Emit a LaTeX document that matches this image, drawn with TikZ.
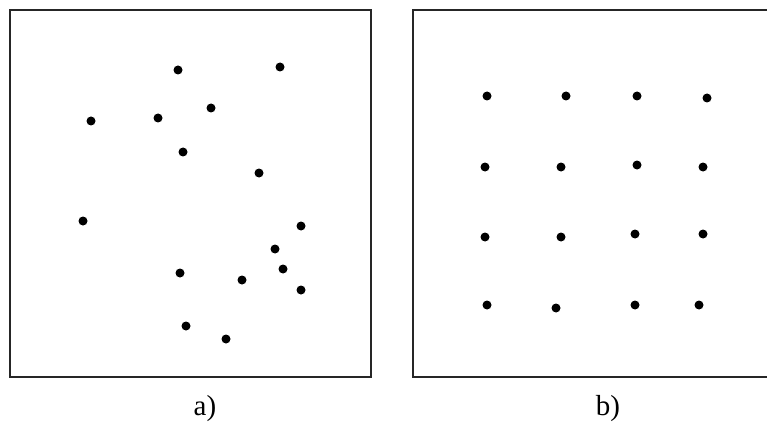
\documentclass[tikz,border=0pt]{standalone}
\usepackage{fontspec}
\setmainfont{Liberation Serif}
\usetikzlibrary{positioning}

\tikzset{
  panel/.style={draw=black!85, line width=2.3pt},
  pt/.style={fill=black},
  caption/.style={font=\fontsize{29}{33}\selectfont, anchor=base, inner sep=0pt}
}

\begin{document}
\begin{tikzpicture}[x=1pt, y=-1pt]
\useasboundingbox (0,0) rectangle (767,422);

% a) random points
\begin{scope}
\draw[panel] (10,10) rectangle (371,377);
\foreach \x/\y in {178/70, 280/67, 211/108, 158/118, 91/121, 183/152, 259/173, 83/221,
                   301/226, 275/249, 180/273, 283/269, 242/280, 301/290, 186/326, 226/339} {
  \fill[pt] (\x,\y) circle (4.5);
}
\node[caption] (capA) at (205,415) {a)};
\end{scope}

% b) regular grid
\begin{scope}
\draw[panel] (413,10) rectangle (780,377);
\foreach \x/\y in {487/96, 566/96, 637/96, 707/98,
                   485/167, 561/167, 637/165, 703/167,
                   485/237, 561/237, 635/234, 703/234,
                   487/305, 556/308, 635/305, 699/305} {
  \fill[pt] (\x,\y) circle (4.5);
}
\node[caption] (capB) at (608,415) {b)};
\end{scope}

\end{tikzpicture}
\end{document}
